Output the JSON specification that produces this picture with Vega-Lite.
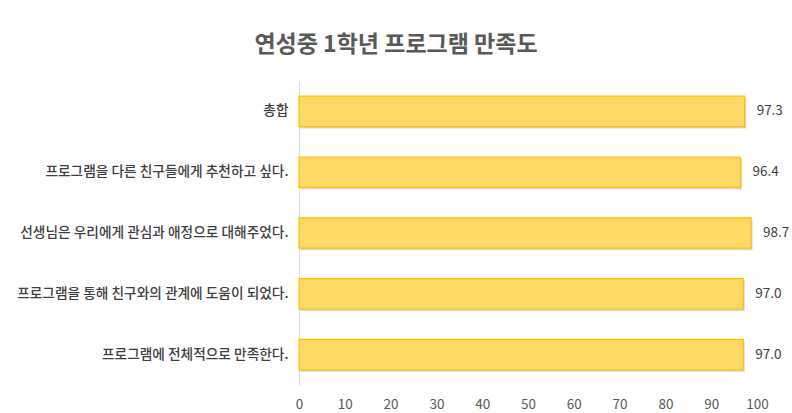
{
  "$schema": "https://vega.github.io/schema/vega-lite/v6.json",
  "width": 458,
  "height": 304,
  "autosize": {"type": "none"},
  "padding": {"left": 299, "top": 81, "right": 35, "bottom": 28},
  "background": "white",
  "title": {
    "text": "연성중 1학년 프로그램 만족도",
    "font": "Noto Sans CJK KR",
    "fontSize": 23,
    "fontWeight": "bold",
    "color": "#595959",
    "anchor": "middle",
    "frame": "group",
    "dx": -132,
    "dy": -24,
    "offset": 0
  },
  "data": {
    "values": [
      {"item": "총합", "value": 97.3},
      {"item": "프로그램을 다른 친구들에게 추천하고 싶다.", "value": 96.4},
      {"item": "선생님은 우리에게 관심과 애정으로 대해주었다.", "value": 98.7},
      {"item": "프로그램을 통해 친구와의 관계에 도움이 되었다.", "value": 97.0},
      {"item": "프로그램에 전체적으로 만족한다.", "value": 97.0}
    ]
  },
  "config": {
    "view": {"stroke": null},
    "font": "Noto Sans CJK KR"
  },
  "encoding": {
    "y": {
      "field": "item",
      "type": "nominal",
      "sort": null,
      "title": null,
      "scale": {"paddingInner": 0.5, "paddingOuter": 0.25},
      "axis": {
        "domainColor": "#d9d9d9",
        "ticks": false,
        "labelPadding": 11,
        "labelFontSize": 13.7,
        "labelFontWeight": 500,
        "labelColor": "#404040",
        "labelFont": "Noto Sans CJK KR",
        "labelLimit": 400
      }
    },
    "x": {
      "field": "value",
      "type": "quantitative",
      "title": null,
      "scale": {"domain": [0, 100]},
      "axis": {
        "values": [0, 10, 20, 30, 40, 50, 60, 70, 80, 90, 100],
        "grid": false,
        "domain": false,
        "ticks": false,
        "labelFlush": false,
        "labelPadding": 12,
        "labelFontSize": 13.5,
        "labelColor": "#595959",
        "labelFont": "Noto Sans CJK KR"
      }
    }
  },
  "layer": [
    {
      "mark": {"type": "bar", "fill": "#a6a6a6", "opacity": 0.45, "xOffset": 1.5, "yOffset": 2, "strokeWidth": 0}
    },
    {
      "mark": {"type": "bar", "fill": "#FED966", "stroke": "#FFC000", "strokeWidth": 1.2}
    },
    {
      "mark": {"type": "text", "align": "left", "dx": 12, "fontSize": 13.5, "color": "#404040"},
      "encoding": {
        "text": {"field": "value", "type": "quantitative", "format": ".1f"}
      }
    }
  ]
}
